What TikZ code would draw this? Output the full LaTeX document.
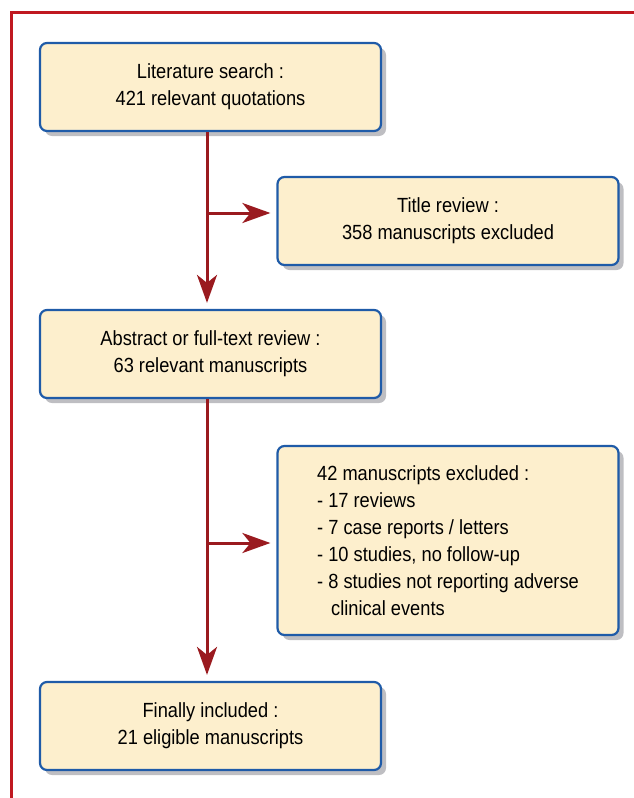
\documentclass[tikz,border=0pt]{standalone}
\usepackage{fontspec}
\setmainfont{Liberation Sans}[FakeStretch=0.89]
\usetikzlibrary{positioning,arrows.meta,shadows}

\definecolor{boxfill}{HTML}{FDEFCD}
\definecolor{boxline}{HTML}{1F5BA8}
\definecolor{flowred}{HTML}{9A1A1F}
\definecolor{framered}{HTML}{C01820}
\definecolor{shadowgray}{HTML}{BEBEC2}

\tikzset{
  stagebox/.style={draw=boxline, line width=2.2pt, fill=boxfill,
    rounded corners=7pt, minimum width=341pt, minimum height=88pt,
    align=center, inner sep=0pt, font=\fontsize{20.5}{27}\selectfont,
    drop shadow={shadow xshift=5pt, shadow yshift=-5pt, fill=shadowgray, opacity=1}},
  flow/.style={draw=flowred, line width=3pt,
    -{Stealth[length=28pt,width=20pt,inset=8pt]}, shorten >=6pt}
}

\begin{document}
\begin{tikzpicture}[x=1pt,y=-1pt]

	\useasboundingbox (0,0) rectangle (634,798);

	% frame
	\draw[framered, line width=3pt] (11,798) -- (11,12) -- (634,12);

	% stages
	\node[stagebox] (search) at (210.5,87) {Literature search :\\421 relevant quotations};
	\node[stagebox] (title) at (448,221) {Title review :\\358 manuscripts excluded};
	\node[stagebox] (abstract) at (210.5,354) {Abstract or full-text review :\\63 relevant manuscripts};
	\node[stagebox, minimum height=189pt, align=left] (excluded) at (448,540.5)
		{42 manuscripts excluded :\\
		 - 17 reviews\\
		 - 7 case reports / letters\\
		 - 10 studies, no follow-up\\
		 - 8 studies not reporting adverse\\
		 \hspace*{14pt}clinical events};
	\node[stagebox] (final) at (210.5,726) {Finally included :\\21 eligible manuscripts};

	% branch points
	\coordinate (fork1) at ([xshift=-3.5pt]search.south |- 0,213);
	\coordinate (fork2) at ([xshift=-3.5pt]abstract.south |- 0,543);

	% flow
	\draw[flow] ([xshift=-3.5pt]search.south) -- ([xshift=-3.5pt]abstract.north);
	\draw[flow] (fork1) -- (fork1 -| title.west);
	\draw[flow] ([xshift=-3.5pt]abstract.south) -- ([xshift=-3.5pt]final.north);
	\draw[flow] (fork2) -- (fork2 -| excluded.west);

\end{tikzpicture}
\end{document}
